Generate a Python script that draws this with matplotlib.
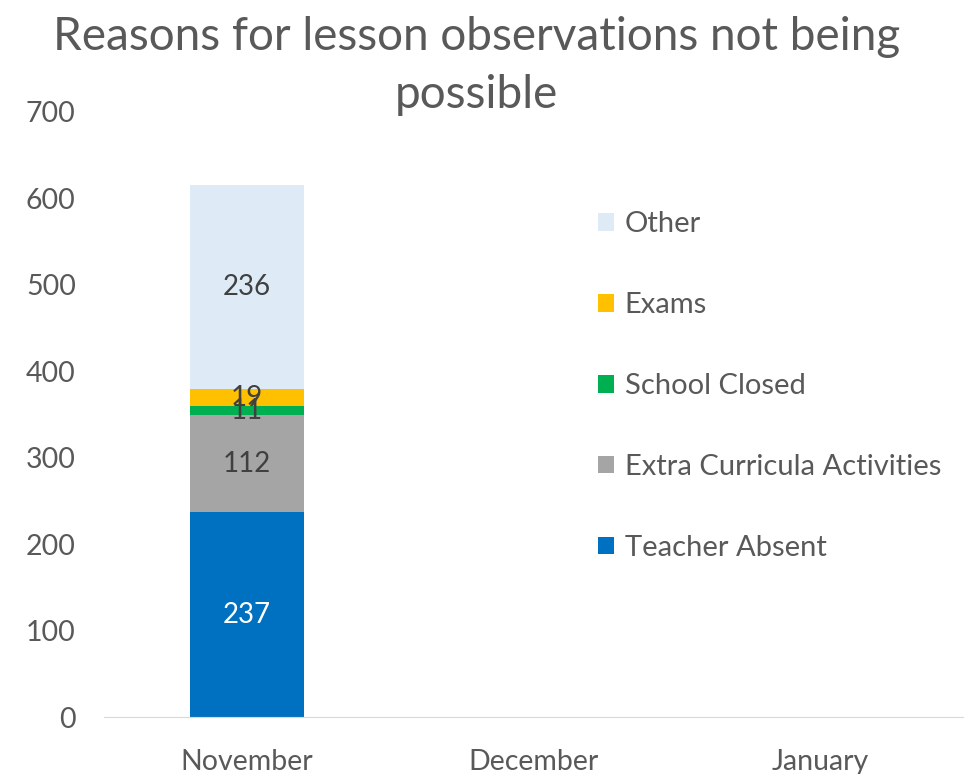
import numpy as np
import matplotlib.pyplot as plt

months = ['November', 'December', 'January']
teacher_absent = [237, 0, 0]
extra_curricula = [112, 0, 0]
school_closed = [11, 0, 0]
exams = [19, 0, 0]
other = [236, 0, 0]

series = [
    ('Teacher Absent', teacher_absent, '#0070C0', 'white'),
    ('Extra Curricula Activities', extra_curricula, '#A5A5A5', '#404040'),
    ('School Closed', school_closed, '#00B050', '#404040'),
    ('Exams', exams, '#FFC000', '#404040'),
    ('Other', other, '#DEEBF7', '#404040'),
]

title_lines = ['Reasons for lesson observations not being', 'possible']

plt.rcParams['font.family'] = ['Lato', 'DejaVu Sans']
grey = '#595959'

fig = plt.figure(figsize=(9.73, 7.74), dpi=100)
ax = fig.add_axes([0.1064, 0.0736, 0.8838, 0.7817])

x = np.arange(len(months))
bottom = np.zeros(len(months))
for name, vals, color, tcol in series:
    vals = np.array(vals, dtype=float)
    bars = ax.bar(x, vals, width=0.4, bottom=bottom, color=color, label=name)
    labels = [str(int(v)) if v > 0 else '' for v in vals]
    ax.bar_label(bars, labels=labels, label_type='center', color=tcol, fontsize=20)
    bottom += vals

ax.set_xlim(-0.5, 2.5)
ax.set_ylim(0, 700)
ax.set_yticks(range(0, 701, 100))
ax.set_xticks(x)
ax.set_xticklabels(months)
ax.tick_params(axis='both', length=0, labelsize=20.5, labelcolor=grey)
ax.tick_params(axis='y', pad=20)
ax.tick_params(axis='x', pad=23)
for s in ['top', 'right', 'left']:
    ax.spines[s].set_visible(False)
ax.spines['bottom'].set_color('#D9D9D9')

handles, labs = ax.get_legend_handles_labels()
leg = ax.legend(handles[::-1], labs[::-1], loc='upper left', bbox_to_anchor=(0.545, 0.879),
                frameon=False, fontsize=21, labelspacing=1.88, handlelength=0.55,
                handleheight=0.55, handletextpad=0.35)
for t in leg.get_texts():
    t.set_color(grey)

# title as two lines, like the original wrapping
fig.text(0.49, 1 - 37 / 774, title_lines[0], ha='center', va='center', fontsize=33, color=grey)
fig.text(0.49, 1 - 95 / 774, title_lines[1], ha='center', va='center', fontsize=33, color=grey)

fig.savefig('out.png', dpi=100)
